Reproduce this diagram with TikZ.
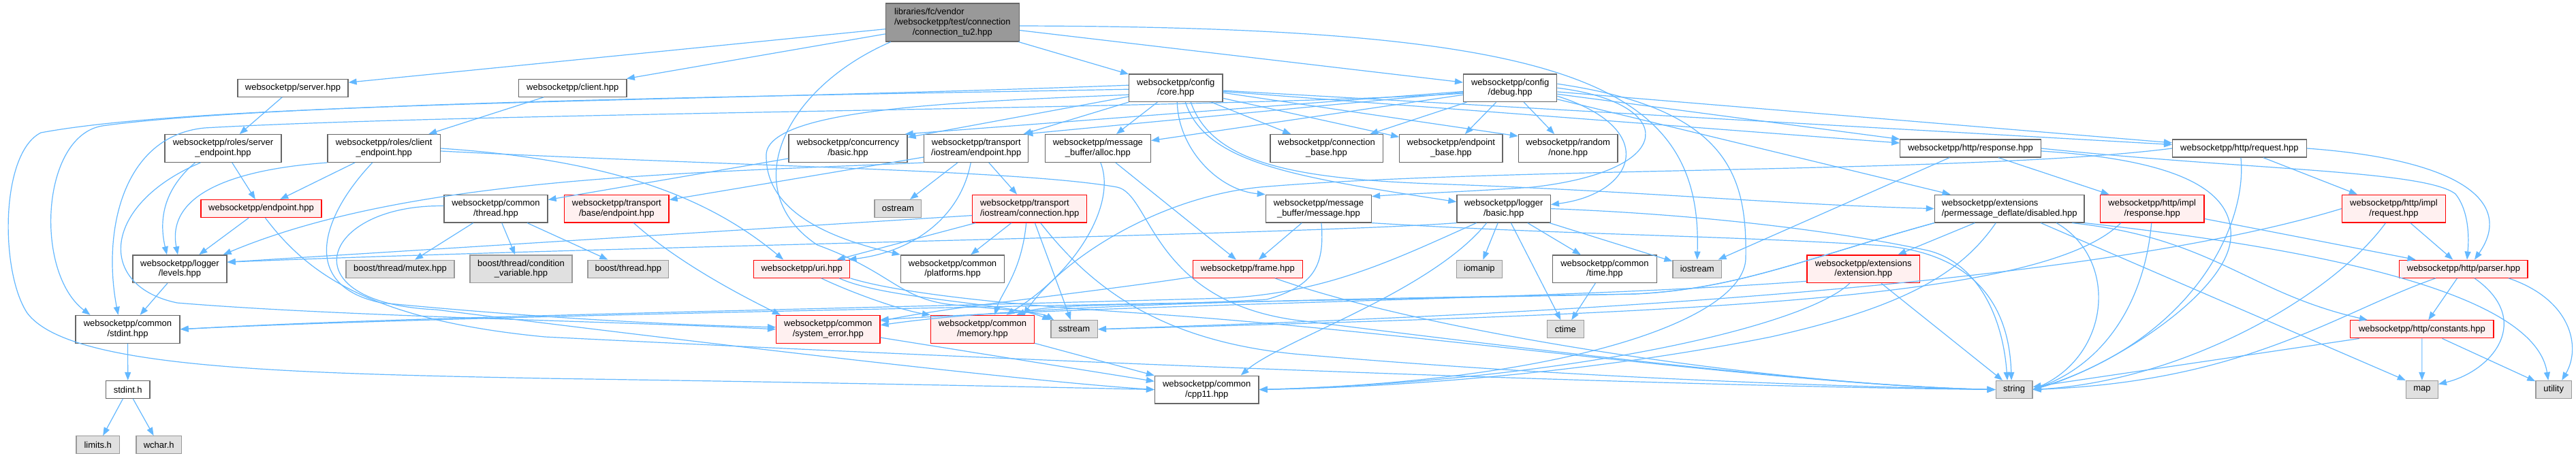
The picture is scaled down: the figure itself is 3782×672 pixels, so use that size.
\documentclass[tikz,border=0pt]{standalone}
\usepackage{fontspec}
\setmainfont{Liberation Sans}
\usetikzlibrary{arrows.meta,calc}
\definecolor{edgec}{HTML}{63B8FF}
\definecolor{bordc}{HTML}{666666}
\definecolor{redfill}{HTML}{FFF0F0}
\definecolor{sysfill}{HTML}{E0E0E0}
\definecolor{sysbord}{HTML}{999999}
\definecolor{mainfill}{HTML}{999999}
\tikzset{
  nbox/.style={draw=bordc, fill=white, line width=1.3pt, inner sep=0pt, align=center, font={\fontsize{13}{14.8}\selectfont}},
  rbox/.style={nbox, draw=red, fill=redfill},
  sbox/.style={nbox, draw=sysbord, fill=sysfill},
  mainnode/.style={nbox, fill=mainfill, draw=bordc},
  conn/.style={draw=edgec, line width=1.2pt, -{Triangle[length=12pt,width=9pt]}},
}
\newcommand{\mynode}[7]{\node[#6, minimum width={((#3)-(#2))*1pt}, minimum height=#5pt] (#1) at ({((#2)+(#3))/2},#4) {#7};}
\begin{document}
\begin{tikzpicture}[x=1pt,y=-1pt]
\fill[white] (0,0) rectangle (3782,672);
\useasboundingbox (0,0) rectangle (3782,672);
% ---------------- nodes
\mynode{main}{1300.4}{1496.3}{33}{55.8}{mainnode}{\rlap{libraries/fc/vendor}\phantom{/websocketpp/test/connection}\\/websocketpp/test/connection\\/connection\_tu2.hpp}
\mynode{server}{349}{511}{129.2}{26}{nbox}{websocketpp/server.hpp}
\mynode{client}{761.6}{920}{129.2}{26}{nbox}{websocketpp/client.hpp}
\mynode{core}{1657.6}{1795}{129.2}{40.7}{nbox}{websocketpp/config\\/core.hpp}
\mynode{debug}{2148.6}{2285.7}{129.2}{40.7}{nbox}{websocketpp/config\\/debug.hpp}
\mynode{srvep}{242}{413}{218}{40.7}{nbox}{websocketpp/roles/server\\\_endpoint.hpp}
\mynode{cliep}{481}{646.5}{218}{40.7}{nbox}{websocketpp/roles/client\\\_endpoint.hpp}
\mynode{concbasic}{1158}{1332}{218}{40.7}{nbox}{websocketpp/concurrency\\/basic.hpp}
\mynode{ioep}{1356.7}{1509.8}{218}{40.7}{nbox}{websocketpp/transport\\/iostream/endpoint.hpp}
\mynode{alloc}{1534.3}{1689.4}{218}{40.7}{nbox}{websocketpp/message\\\_buffer/alloc.hpp}
\mynode{connbase}{1864.9}{2030.2}{218}{40.7}{nbox}{websocketpp/connection\\\_base.hpp}
\mynode{epbase}{2054.7}{2206}{218}{40.7}{nbox}{websocketpp/endpoint\\\_base.hpp}
\mynode{none}{2229.4}{2375}{218}{40.7}{nbox}{websocketpp/random\\/none.hpp}
\mynode{response}{2789.8}{2996.3}{218}{26}{nbox}{websocketpp/http/response.hpp}
\mynode{request}{3189.6}{3386.2}{218}{26}{nbox}{websocketpp/http/request.hpp}
\mynode{endpoint}{295}{472}{306.6}{26}{rbox}{websocketpp/endpoint.hpp}
\mynode{thread}{652}{804}{306.6}{40.7}{nbox}{websocketpp/common\\/thread.hpp}
\mynode{baseep}{828.6}{982}{306.6}{40.7}{rbox}{websocketpp/transport\\/base/endpoint.hpp}
\mynode{ostream}{1284}{1352.7}{306.6}{26}{sbox}{ostream}
\mynode{ioconn}{1427.8}{1595.5}{306.6}{40.7}{rbox,align=left}{websocketpp/transport\\/iostream/connection.hpp}
\mynode{message}{1858.4}{2013.5}{306.6}{40.7}{nbox}{websocketpp/message\\\_buffer/message.hpp}
\mynode{lbasic}{2139}{2276.3}{306.6}{40.7}{nbox}{websocketpp/logger\\/basic.hpp}
\mynode{disabled}{2840.4}{3060}{306.6}{40.7}{nbox,align=left}{websocketpp/extensions\\/permessage\_deflate/disabled.hpp}
\mynode{implresp}{3083.3}{3236.1}{306.6}{40.7}{rbox}{websocketpp/http/impl\\/response.hpp}
\mynode{implreq}{3438.4}{3590.6}{306.6}{40.7}{rbox}{websocketpp/http/impl\\/request.hpp}
\mynode{levels}{195}{333}{395.2}{40.7}{nbox}{websocketpp/logger\\/levels.hpp}
\mynode{mutex}{508}{667}{395.2}{26}{sbox}{boost/thread/mutex.hpp}
\mynode{condvar}{690}{840}{395.2}{40.7}{sbox}{boost/thread/condition\\\_variable.hpp}
\mynode{bthread}{863}{981.6}{395.2}{26}{sbox}{boost/thread.hpp}
\mynode{uri}{1106.5}{1247.8}{395.2}{26}{rbox}{websocketpp/uri.hpp}
\mynode{platforms}{1322.4}{1474.7}{395.2}{40.7}{nbox}{websocketpp/common\\/platforms.hpp}
\mynode{frame}{1751.4}{1912.2}{395.2}{26}{rbox}{websocketpp/frame.hpp}
\mynode{iomanip}{2138.4}{2205.3}{395.2}{26}{sbox}{iomanip}
\mynode{time}{2279.6}{2432.2}{395.2}{40.7}{nbox}{websocketpp/common\\/time.hpp}
\mynode{iostream}{2456}{2527.3}{395.2}{26}{sbox}{iostream}
\mynode{extension}{2653}{2818.4}{395.2}{40.7}{rbox}{websocketpp/extensions\\/extension.hpp}
\mynode{parser}{3522.8}{3711.1}{395.2}{26}{rbox}{websocketpp/http/parser.hpp}
\mynode{stdint}{111}{264}{483.8}{40.7}{nbox}{websocketpp/common\\/stdint.hpp}
\mynode{syserr}{1139.6}{1292}{483.8}{40.7}{rbox}{websocketpp/common\\/system\_error.hpp}
\mynode{memory}{1366.5}{1518.4}{483.8}{40.7}{rbox}{websocketpp/common\\/memory.hpp}
\mynode{sstream}{1542.9}{1611.4}{483.8}{26}{sbox}{sstream}
\mynode{ctime}{2271.4}{2325.3}{483.8}{26}{sbox}{ctime}
\mynode{constants}{3450.6}{3661.1}{483.8}{26}{rbox}{websocketpp/http/constants.hpp}
\mynode{stdinth}{155.5}{220}{572.5}{26}{nbox}{stdint.h}
\mynode{cpp11}{1695.5}{1848}{572.5}{40.7}{nbox}{websocketpp/common\\/cpp11.hpp}
\mynode{string}{2930.2}{2984}{572.5}{26}{sbox}{string}
\mynode{map}{3532.4}{3579.3}{572.5}{26}{sbox}{map}
\mynode{utility}{3722.9}{3775.5}{572.5}{26}{sbox}{utility}
\mynode{limits}{112}{175.5}{653.8}{26}{sbox}{limits.h}
\mynode{wchar}{200}{266.5}{653.8}{26}{sbox}{wchar.h}
% ---------------- edges
% main
\draw[conn] (main) -- (server);
\draw[conn] (main) -- (client);
\draw[conn] (main) -- (core);
\draw[conn] (main) -- (debug);
\draw[conn] ($(main.east)+(0,5)$) .. controls (2300,40) and (2500,120) .. (iostream.north);
\draw[conn] ($(main.south west)+(8,0)$) .. controls (1150,130) and (1080,280) .. (1200,360) .. controls (1310,400) and (1320,440) .. (1400,448) .. controls (1480,455) and (1530,460) .. ($(sstream.north west)+(5,0)$);
% server, client
\draw[conn] (server) -- (srvep);
\draw[conn] (client) -- (cliep);
% server endpoint
\draw[conn] (srvep) -- (endpoint);
\draw[conn] ($(srvep.south)+(-41,0)$) .. controls (232,285) and (236,335) .. ($(levels.north)+(-19,0)$);
\draw[conn] ($(srvep.south)+(-33,0)$) .. controls (150,300) and (140,420) .. (260,445) .. controls (500,465) and (900,472) .. (syserr.west);
% client endpoint
\draw[conn] (cliep) -- (endpoint);
\draw[conn] (cliep.south west) .. controls (330,250) and (245,290) .. ($(levels.north)+(-3,0)$);
\draw[conn] ($(cliep.south)+(-17,0)$) .. controls (470,320) and (440,420) .. (560,445) .. controls (800,468) and (1000,478) .. ($(syserr.west)+(0,-3)$);
\draw[conn] (cliep.east) .. controls (900,235) and (1040,290) .. ($(uri.north)+(-27,0)$);
\draw[conn] ($(cliep.east)+(0,4)$) .. controls (1100,245) and (1500,250) .. (1640,275) .. controls (1690,285) and (1690,440) .. (1900,470) .. controls (2300,520) and (2700,568) .. (string.west);
% endpoint
\draw[conn] (endpoint) -- (levels);
\draw[conn] ($(endpoint.south)+(6,0)$) .. controls (450,400) and (540,470) .. (800,495) .. controls (1700,540) and (2500,568) .. (string.west);
% thread
\draw[conn] (thread) -- (mutex);
\draw[conn] (thread) -- (condvar);
\draw[conn] (thread) -- (bthread);
\draw[conn] ($(thread.west)+(0,-4)$) .. controls (470,300) and (420,445) .. (640,455) .. controls (1000,500) and (1500,560) .. (cpp11.west);
\draw[conn] (concbasic) -- (thread);
% transport base endpoint
\draw[conn] ($(baseep.south)+(25,0)$) .. controls (1000,390) and (1100,440) .. ($(syserr.north)+(-70,0)$);
% iostream endpoint
\draw[conn] (ioep) -- (baseep);
\draw[conn] (ioep.south west) .. controls (1000,255) and (600,260) .. ($(levels.north east)+(-6,0)$);
\draw[conn] (ioep) -- (ostream);
\draw[conn] ($(ioep.south)+(-8,0)$) .. controls (1410,320) and (1340,370) .. ($(uri.north east)+(-3,0)$);
\draw[conn] (ioep) -- (ioconn);
% iostream connection
\draw[conn] (ioconn) -- (uri);
\draw[conn] ($(ioconn.west)+(0,10)$) -- ($(levels.east)+(0,-10)$);
\draw[conn] (ioconn) -- (platforms);
\draw[conn] ($(ioconn.south)+(-5,0)$) .. controls (1500,400) and (1470,430) .. ($(memory.north)+(18,0)$);
\draw[conn] (ioconn) -- (sstream);
\draw[conn] ($(ioconn.south)+(16,0)$) .. controls (1600,420) and (1700,500) .. (1900,520) .. controls (2300,555) and (2700,568) .. (string.west);
% alloc
\draw[conn] ($(alloc.south)+(4,0)$) .. controls (1640,300) and (1580,400) .. ($(memory.north)+(35,0)$);
\draw[conn] (alloc) -- (frame);
% message
\draw[conn] (message) -- (frame);
\draw[conn] ($(message.south)+(4,0)$) .. controls (1945,390) and (1930,420) .. (1860,440) .. controls (1700,450) and (1540,445) .. ($(memory.north)+(50,0)$);
\draw[conn] (message.south east) .. controls (2300,345) and (2500,345) .. (2750,360) .. controls (2900,368) and (2950,450) .. ($(string.north)+(-4,0)$);
% logger basic
\draw[conn] (lbasic.south west) .. controls (1900,345) and (900,362) .. ($(levels.east)+(0,-10)$);
\draw[conn] ($(lbasic.south)+(-40,0)$) .. controls (2050,380) and (1950,430) .. (1800,438) .. controls (1200,455) and (600,465) .. (stdint.east);
\draw[conn] ($(lbasic.south)+(-25,0)$) .. controls (2100,430) and (1880,500) .. ($(cpp11.north)+(50,0)$);
\draw[conn] (lbasic) -- (iomanip);
\draw[conn] (lbasic) -- (ctime);
\draw[conn] (lbasic) -- (time);
\draw[conn] (lbasic) -- (iostream);
\draw[conn] (lbasic.east) .. controls (2500,315) and (2700,340) .. (2830,368) .. controls (2900,385) and (2940,460) .. ($(string.north)+(-10,0)$);
\draw[conn] (time) -- (ctime);
% frame
\draw[conn] ($(frame.south west)+(0,-2)$) .. controls (1600,430) and (1400,450) .. ($(syserr.east)+(0,-12)$);
\draw[conn] ($(frame.south)+(40,0)$) .. controls (2100,490) and (2600,565) .. (string.west);
% uri
\draw[conn] (uri) .. controls (1250,430) and (1320,455) .. (memory.north west);
\draw[conn] ($(uri.south)+(55,0)$) .. controls (1300,440) and (1480,445) .. (sstream.north west);
\draw[conn] (uri.south east) .. controls (1350,440) and (1600,455) .. (1700,462) .. controls (2100,490) and (2600,565) .. (string.west);
% common
\draw[conn] (syserr) -- (cpp11);
\draw[conn] (memory) -- (cpp11);
\draw[conn] (levels) -- (stdint);
\draw[conn] (stdint) -- (stdinth);
\draw[conn] (stdinth) -- (limits);
\draw[conn] (stdinth) -- (wchar);
% permessage deflate disabled
\draw[conn] (disabled) -- (extension);
\draw[conn] ($(disabled.south)+(-20,0)$) .. controls (2880,400) and (2800,450) .. (2600,495) .. controls (2300,555) and (2000,570) .. (cpp11.east);
\draw[conn] (disabled.south west) .. controls (2650,380) and (2550,425) .. (2400,432) .. controls (1800,445) and (700,462) .. (stdint.east);
\draw[conn] (disabled.south west) .. controls (2650,380) and (2550,425) .. (2400,432) .. controls (1900,440) and (1500,448) .. ($(syserr.east)+(0,-6)$);
\draw[conn] ($(disabled.south)+(69,0)$) .. controls (3110,380) and (3100,520) .. (string.east);
\draw[conn] ($(disabled.south)+(92,0)$) .. controls (3250,350) and (3300,430) .. ($(constants.north)+(-80,0)$);
\draw[conn] ($(disabled.south)+(46,0)$) -- (map.north west);
\draw[conn] (disabled.south east) .. controls (3350,360) and (3720,420) .. ($(utility.north)+(-8,0)$);
% extension
\draw[conn] ($(extension.west)+(0,18)$) .. controls (2300,440) and (1700,445) .. ($(syserr.east)+(0,-14)$);
\draw[conn] ($(extension.south)+(-20,0)$) .. controls (2650,480) and (2300,560) .. (cpp11.east);
\draw[conn] (extension) -- (string);
% http response
\draw[conn] (response) -- (iostream);
\draw[conn] (response) -- (implresp);
\draw[conn] (response.east) .. controls (3300,250) and (3560,250) .. (3605,285) .. controls (3625,310) and (3625,350) .. ($(parser.north)+(5,0)$);
\draw[conn] ($(response.east)+(0,4)$) .. controls (3200,235) and (3280,280) .. (3275,350) .. controls (3270,430) and (3100,540) .. (string.east);
% http request
\draw[conn] (request) -- (implreq);
\draw[conn] (request.east) .. controls (3620,235) and (3690,300) .. ($(parser.north)+(16,0)$);
\draw[conn] ($(request.south)+(2,0)$) .. controls (3300,330) and (3220,500) .. (string.east);
\draw[conn] (request.west) .. controls (2900,255) and (2200,245) .. (1850,275) .. controls (1700,290) and (1560,380) .. ($(memory.north)+(60,0)$);
% impl
\draw[conn] (implresp) -- (parser);
\draw[conn] ($(implresp.south)+(-1,0)$) .. controls (3150,430) and (3100,530) .. (string.east);
\draw[conn] ($(implresp.south)+(-46,0)$) .. controls (3000,440) and (2500,460) .. (sstream.east);
\draw[conn] (implreq) -- (parser);
\draw[conn] ($(implreq.south)+(-12,0)$) .. controls (3420,440) and (3200,560) .. (string.east);
\draw[conn] (implreq.west) .. controls (3000,440) and (2000,470) .. (sstream.east);
% parser
\draw[conn] (parser) -- (constants);
\draw[conn] ($(parser.south)+(16,0)$) .. controls (3720,470) and (3660,545) .. ($(map.east)+(0,-8)$);
\draw[conn] ($(parser.south)+(66,0)$) .. controls (3775,440) and (3790,510) .. ($(utility.north)+(12,0)$);
\draw[conn] ($(parser.south)+(-41,0)$) .. controls (3430,460) and (3300,560) .. (string.east);
% constants
\draw[conn] (constants) -- (map);
\draw[conn] (constants) -- (utility);
\draw[conn] (constants) -- (string);
% config core
\draw[conn] (core) -- (alloc);
\draw[conn] (core) -- (connbase);
\draw[conn] (core) -- (epbase);
\draw[conn] ($(core.east)+(0,7)$) -- ($(none.north west)+(0,3)$);
\draw[conn] (core) -- (response);
\draw[conn] (core) -- (request);
\draw[conn] (core) -- (concbasic);
\draw[conn] (core) -- (ioep);
\draw[conn] ($(core.south)+(2,0)$) .. controls (1730,220) and (1790,280) .. (message.north west);
\draw[conn] ($(core.south)+(14,0)$) .. controls (1770,240) and (1900,260) .. ($(lbasic.west)+(0,-10)$);
\draw[conn] ($(core.south)+(22,0)$) .. controls (1780,240) and (1900,262) .. (2100,270) .. controls (2400,280) and (2600,300) .. (disabled.west);
\draw[conn] ($(core.west)+(0,10)$) .. controls (1400,150) and (1120,160) .. (1125,230) .. controls (1125,320) and (1240,355) .. (platforms.north west);
\draw[conn] ($(core.west)+(0,2)$) .. controls (1200,140) and (400,150) .. (150,185) .. controls (60,200) and (50,400) .. ($(stdint.north)+(-55,0)$);
\draw[conn] ($(core.west)+(0,-4)$) .. controls (1000,150) and (300,150) .. (60,195) .. controls (0,225) and (0,400) .. (40,460) .. controls (100,540) and (400,548) .. (800,556) .. controls (1200,562) and (1500,568) .. (cpp11.west);
% config debug
\draw[conn] (debug) -- (connbase);
\draw[conn] (debug) -- (epbase);
\draw[conn] (debug) -- (none);
\draw[conn] (debug) -- (alloc);
\draw[conn] (debug) -- ($(concbasic.north east)+(-4,0)$);
\draw[conn] (debug) -- ($(ioep.north east)+(-6,0)$);
\draw[conn] (debug) -- (response);
\draw[conn] (debug) -- (request);
\draw[conn] (debug) -- (disabled);
\draw[conn] (debug.east) .. controls (2460,150) and (2470,250) .. (2250,275) .. controls (2150,282) and (2060,285) .. ($(message.north east)+(0,3)$);
\draw[conn] ($(debug.east)+(0,12)$) .. controls (2440,190) and (2400,285) .. ($(lbasic.east)+(0,-6)$);
\draw[conn] ($(debug.east)+(0,-6)$) .. controls (2540,160) and (2565,260) .. (2563,380) .. controls (2560,470) and (2300,560) .. (cpp11.east);
\draw[conn] ($(debug.west)+(0,8)$) .. controls (1800,160) and (700,165) .. (300,188) .. controls (180,200) and (150,340) .. ($(stdint.north)+(-14,0)$);
\end{tikzpicture}
\end{document}
